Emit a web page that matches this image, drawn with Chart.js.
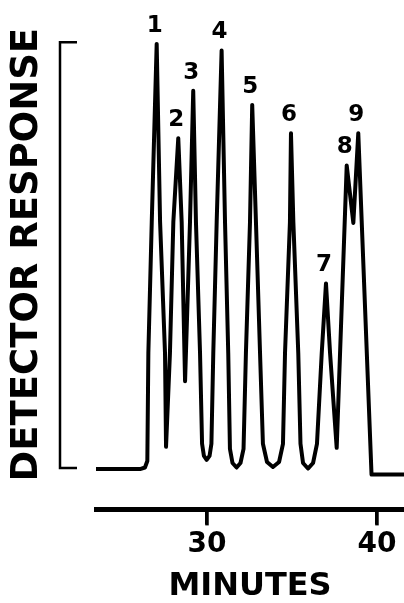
<!DOCTYPE html>
<html lang="en-US">
<head>
  <meta charset="utf-8">
  <title>Chromatogram | Chart.js</title>
  <script src="https://cdn.jsdelivr.net/npm/chart.js@4.4.1/dist/chart.umd.min.js"></script>
  <style>
    html, body { margin: 0; padding: 0; background: #fff; }
    .wrapper { width: 404px; height: 603px; }
  </style>
</head>
<body>
  <div class="wrapper">
    <canvas id="chart-0"></canvas>
  </div>

  <script>

    // trace: retention time (minutes) and detector response
    let times = [
      23.47, 26.06, 26.35, 26.49, 26.55, 26.75, 27.04, 27.24, 27.53, 27.59,
      27.82, 28.02, 28.31, 28.51, 28.71, 29.00, 29.19, 29.35, 29.59, 29.71,
      29.82, 29.98, 30.15, 30.26, 30.37, 30.57, 30.86, 31.06, 31.25, 31.35,
      31.50, 31.74, 31.97, 32.15, 32.29, 32.53, 32.66, 32.88, 33.12, 33.29,
      33.53, 33.88, 34.24, 34.47, 34.59, 34.88, 34.94, 35.08, 35.37, 35.50,
      35.65, 35.94, 36.24, 36.47, 36.75, 37.00, 37.24, 37.63, 38.22, 38.61,
      38.90, 39.68, 41.59
    ];
    let response = [
      -0.24, -0.24, 0.12, 1.66, 27.01, 57.82, 99.64, 57.82, 27.01, 4.98,
      27.01, 57.82, 77.49, 57.82, 20.38, 57.82, 88.63, 57.82, 27.01, 5.69,
      2.84, 1.90, 2.84, 5.69, 27.01, 57.82, 98.10, 57.82, 27.01, 4.50,
      1.18, 0.12, 1.18, 4.50, 27.01, 57.82, 85.31, 57.82, 27.01, 5.69,
      1.42, 0.24, 1.42, 5.69, 27.01, 57.82, 78.67, 57.82, 27.01, 5.69,
      1.18, -0.12, 1.18, 5.69, 27.01, 43.36, 27.01, 4.74, 71.09, 57.58,
      78.67, -1.54, -1.54
    ];

    let peakLabels = ['1', '2', '3', '4', '5', '6', '7', '8', '9'];
    let peakTimes = [27.04, 28.31, 29.19, 30.86, 32.66, 34.94, 37.00, 38.22, 38.90];
    let peakHeights = [99.64, 77.49, 88.63, 98.10, 85.31, 78.67, 43.36, 71.09, 78.67];

    let xTicks = [30, 40];
    let bracketRange = [0, 100];

    let boldFont = '"DejaVu Sans", sans-serif';

    let bracket = {
      id: 'bracket',
      afterDraw: function(chart) {
        let ctx = chart.ctx;
        let x = chart.scales.x;
        let y = chart.scales.y;
        let top = y.getPixelForValue(bracketRange[1]);
        let bottom = y.getPixelForValue(bracketRange[0]);

        ctx.save();
        ctx.strokeStyle = '#000';
        ctx.lineWidth = 2.5;
        ctx.beginPath();
        ctx.moveTo(77, top);
        ctx.lineTo(60, top);
        ctx.lineTo(60, bottom);
        ctx.lineTo(77, bottom);
        ctx.stroke();

        // tick stubs under the time axis
        ctx.fillStyle = '#000';
        xTicks.forEach(function(v) {
          let px = x.getPixelForValue(v);
          ctx.fillRect(px - 1.75, chart.chartArea.bottom, 3.5, 16);
        });

        ctx.font = 'bold 23px ' + boldFont;
        ctx.textAlign = 'center';
        ctx.textBaseline = 'middle';
        peakLabels.forEach(function(label, i) {
          ctx.fillText(label, x.getPixelForValue(peakTimes[i]) - 2, y.getPixelForValue(peakHeights[i]) - 18);
        });
        ctx.restore();
      }
    };

    let chart = new Chart('chart-0', {
      type: 'line',
      data: {
        datasets: [{
          data: times.map((t, i) => ({x: t, y: response[i]})),
          borderColor: '#000',
          borderWidth: 4,
          borderJoinStyle: 'round',
          borderCapStyle: 'round',
          pointRadius: 0,
          tension: 0,
          fill: false
        }]
      },
      options: {
        responsive: true,
        maintainAspectRatio: false,
        animation: false,
        layout: { padding: 0 },
        plugins: {
          legend: { display: false },
          tooltip: { enabled: false }
        },
        scales: {
          x: {
            type: 'linear',
            position: 'bottom',
            min: 23.47,
            max: 41.59,
            afterBuildTicks: function(scale) {
              scale.ticks = xTicks.map(v => ({value: v}));
            },
            ticks: {
              color: '#000',
              padding: 4,
              maxRotation: 0,
              autoSkip: false,
              font: { family: boldFont, weight: 'bold', size: 28, lineHeight: 1.2 },
              callback: v => String(v)
            },
            grid: {
              display: true,
              drawOnChartArea: false,
              drawTicks: true,
              tickLength: 15,
              tickWidth: 3,
              tickColor: '#000',
              lineWidth: 3,
              color: '#000'
            },
            border: { display: true, width: 5, color: '#000' },
            title: {
              display: true,
              text: 'MINUTES',
              color: '#000',
              font: { family: boldFont, weight: 'bold', size: 32, lineHeight: 1 },
              padding: { top: 5, bottom: 0 }
            }
          },
          y: {
            type: 'linear',
            position: 'left',
            min: -9.72,
            max: 109.95,
            ticks: { display: false },
            grid: { display: false, drawTicks: false },
            border: { display: false },
            title: {
              display: true,
              text: 'DETECTOR RESPONSE',
              color: '#000',
              font: { family: boldFont, weight: 'bold', size: 37, lineHeight: 1 },
              padding: { top: 8.5, bottom: 50.5 }
            }
          }
        }
      },
      plugins: [bracket]
    });

  </script>
</body>
</html>
